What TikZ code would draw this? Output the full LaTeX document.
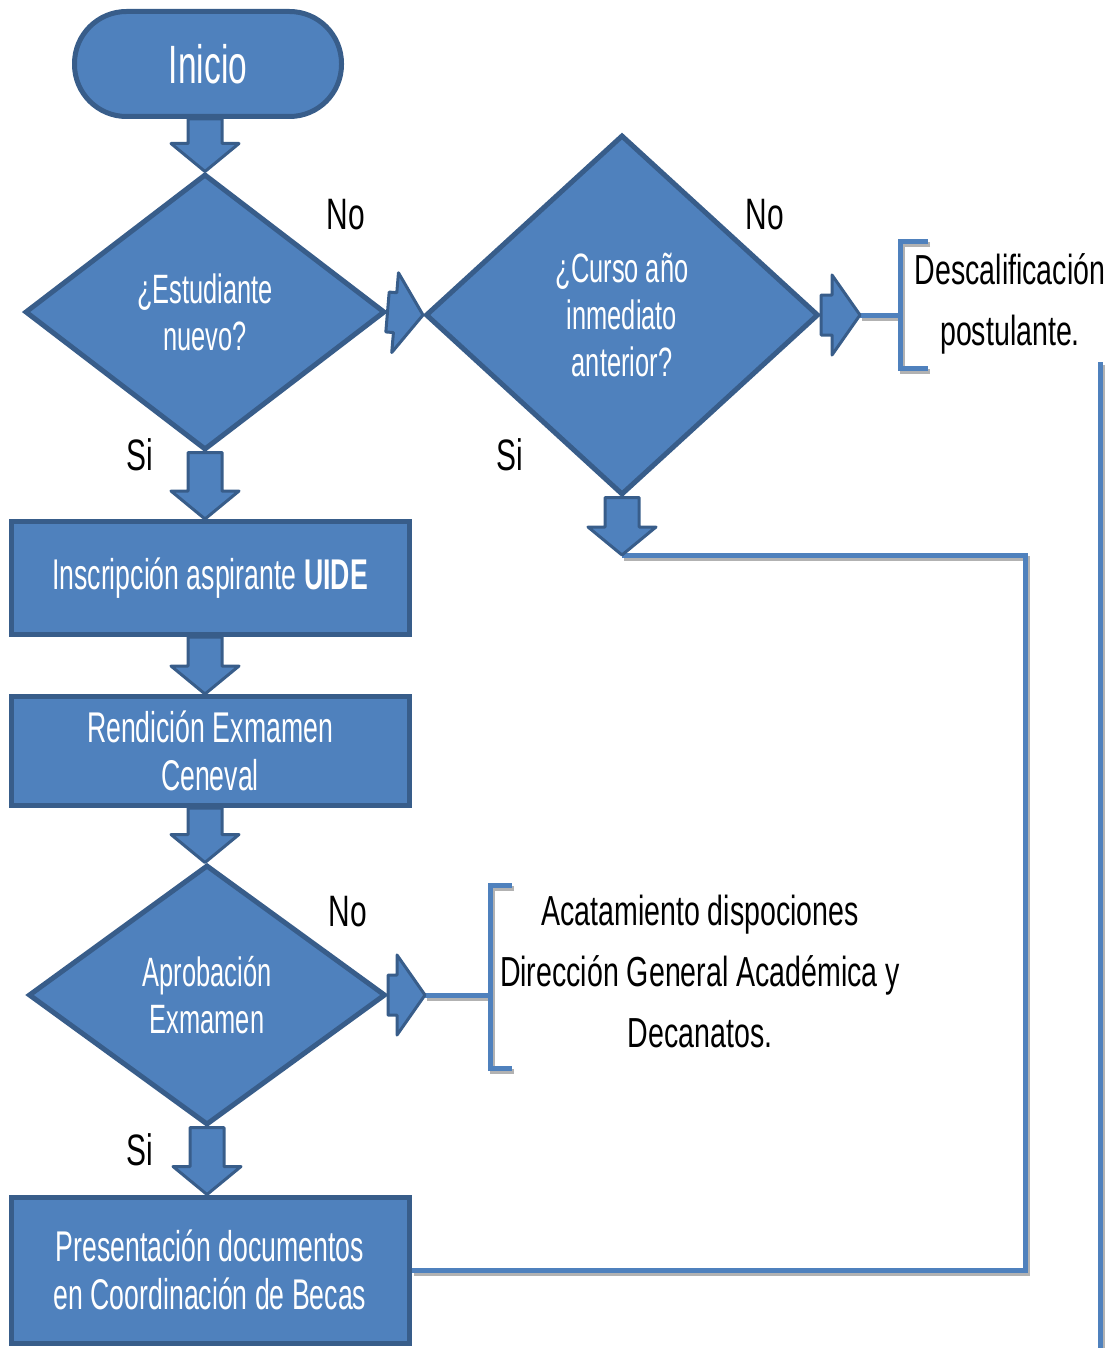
\documentclass[tikz,border=0pt]{standalone}
\usepackage{fontspec}
\setmainfont[FakeStretch=0.68]{Liberation Sans}
\newfontfamily\narrowf[FakeStretch=0.62]{Liberation Sans}
\usetikzlibrary{shapes.geometric,calc}
\definecolor{blu}{HTML}{4F81BD}
\definecolor{blued}{HTML}{385D8A}
\newcommand{\blkarrow}[4]{%
  \coordinate (ba) at (#1); \coordinate (bb) at (#2);
  \coordinate (bh) at ($(bb)!14pt!(ba)$);
  \filldraw[blkarrow] ($(ba)!#3!90:(bb)$) -- ($(bh)!#3!90:(bb)$) -- ($(bh)!#4!90:(bb)$) -- (bb) -- ($(bh)!#4!-90:(bb)$) -- ($(bh)!#3!-90:(bb)$) -- ($(ba)!#3!-90:(bb)$) -- cycle;}

\begin{document}
\begin{tikzpicture}[x=0.5pt,y=-0.5pt,
  proc/.style={draw=blued, fill=blu, line width=2.5pt, text=white, align=center, minimum width=199pt, font=\narrowf\fontsize{21.5}{24}\selectfont},
  dec/.style={diamond, draw=blued, fill=blu, line width=2.5pt, text=white, align=center, inner sep=0pt, font=\narrowf\fontsize{20.5}{23.5}\selectfont},
  blkarrow/.style={draw=blued, fill=blu, line width=1.5pt, line join=round},
  link/.style={draw=blu, line width=2.5pt, preaction={draw=gray!60, line width=2.5pt, transform canvas={shift={(1pt,-1.5pt)}}}},
  lbl/.style={font=\fontsize{22}{24}\selectfont},
  note/.style={align=center, font=\fontsize{21}{30.5}\selectfont}]
\useasboundingbox (0,0) rectangle (1115,1348);
\node[draw=blued, fill=blu, line width=2.5pt, rounded corners=26pt, minimum width=133.5pt, minimum height=52.5pt, text=white, font=\narrowf\fontsize{27}{30}\selectfont] (ini) at (208,64) {Inicio};
\node[dec, minimum width=180pt, minimum height=138pt] (estud) at (205,312) {¿Estudiante\\nuevo?};
\node[dec, minimum width=196.5pt, minimum height=180pt] (curso) at (622,315) {¿Curso año\\inmediato\\anterior?};
\node[proc, minimum height=56.5pt] (insc) at (210,578) {Inscripción aspirante \textbf{UIDE}};
\node[proc, minimum height=54.5pt] (rend) at (210,751) {Rendición Exmamen\\Ceneval};
\node[dec, minimum width=178.5pt, minimum height=130pt] (aprob) at (207,995) {Aprobación\\Exmamen};
\node[proc, minimum height=73pt] (pres) at (210,1270) {Presentación documentos\\en Coordinación de Becas};

\node[lbl] (no1) at (346,215) {No};
\node[lbl] (si1) at (140,455) {Si};
\node[lbl] (no2) at (765,215) {No};
\node[lbl] (si2) at (510,455) {Si};
\node[lbl] (no3) at (348,912) {No};
\node[lbl] (si3) at (140,1150) {Si};

\node[note] (desc) at (1010,304) {Descalificación\\postulante.};
\node[note] (acat) at (700,971) {Acatamiento dispociones\\Dirección General Académica y\\Decanatos.};

\coordinate (cursotip) at (860,315);
\coordinate (cursoend) at (622,555);
\coordinate (aprobtip) at (425,995);
\coordinate (bra) at (900,315);
\coordinate (brat) at (900,242);
\coordinate (brab) at (900,368);
\coordinate (brb) at (490,995);
\coordinate (brbt) at (490,885);
\coordinate (brbb) at (490,1068);
\coordinate (rc) at (1025,555);
\coordinate (vt) at (1100,362);
\coordinate (vb) at (1100,1348);

\draw[link] (cursotip) -- (bra);
\draw[link] (928,242) -- (brat) -- (brab) -- (928,368);
\draw[link] (aprobtip) -- (brb);
\draw[link] (512,885) -- (brbt) -- (brbb) -- (512,1068);
\draw[link] (cursoend) -- (rc) |- (pres.east);
\draw[link] (vt) -- (vb);

\blkarrow{ini.south -| estud.north}{estud.north}{8.5pt}{17pt}
\blkarrow{estud.south}{estud.south |- insc.north}{8.5pt}{17pt}
\blkarrow{estud.south |- insc.south}{estud.south |- rend.north}{8.5pt}{17pt}
\blkarrow{estud.south |- rend.south}{estud.south |- aprob.north}{8.5pt}{17pt}
\blkarrow{aprob.south}{aprob.south |- pres.north}{8.5pt}{17pt}
\blkarrow{estud.east}{curso.west}{10pt}{20pt}
\blkarrow{curso.east}{cursotip}{10pt}{20pt}
\blkarrow{curso.south}{cursoend}{8.5pt}{17pt}
\blkarrow{aprob.east}{aprobtip}{10pt}{20pt}
\end{tikzpicture}
\end{document}
